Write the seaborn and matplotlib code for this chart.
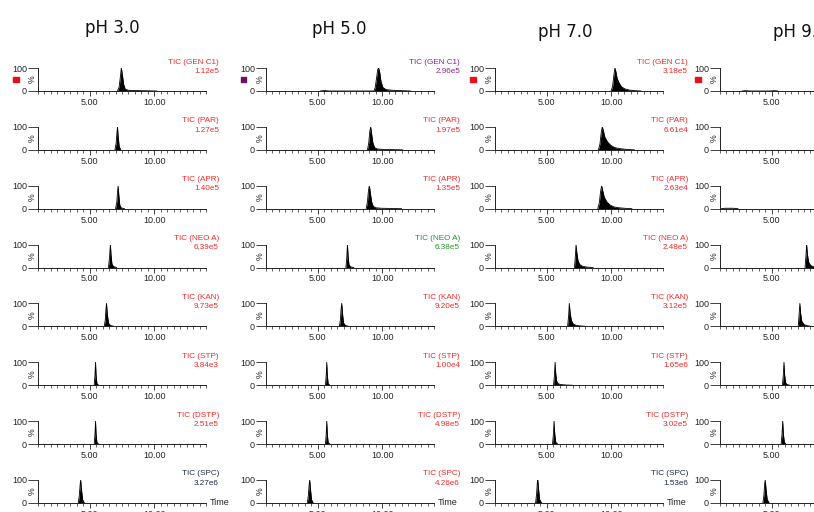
import matplotlib
matplotlib.use("Agg")
import matplotlib.pyplot as plt
import seaborn as sns
import pandas as pd
from matplotlib.ticker import MultipleLocator, FixedLocator
from matplotlib.patches import Rectangle

# ---------------- data ----------------
titles = ["pH 3.0", "pH 5.0", "pH 7.0", "pH 9.0"]
compounds = ["GEN C1", "PAR", "APR", "NEO A", "KAN", "STP", "DSTP", "SPC"]

ph3_intensity = ["1.12e5", "1.27e5", "1.40e5", "6.39e5", "9.73e5", "3.84e3", "2.51e5", "3.27e6"]
ph5_intensity = ["2.96e5", "1.97e5", "1.35e5", "6.38e5", "9.20e5", "1.00e4", "4.98e5", "4.26e6"]
ph7_intensity = ["3.18e5", "6.61e4", "2.63e4", "2.48e5", "3.12e5", "1.65e6", "3.02e5", "1.53e6"]

ph3_label_color = ["red", "red", "red", "red", "red", "red", "red", "navy"]
ph5_label_color = ["purple", "red", "red", "green", "red", "red", "red", "red"]
ph7_label_color = ["red", "red", "red", "red", "red", "red", "red", "navy"]

# retention time (min) / relative intensity (%) points of each trace
ph3_time = [
    [7.15, 7.28, 7.37, 7.45, 7.53, 7.62, 7.75, 8.0, 8.6, 9.4, 10.2],
    [6.95, 7.05, 7.1, 7.15, 7.2, 7.28, 7.4],
    [7.0, 7.1, 7.15, 7.2, 7.25, 7.33, 7.45, 7.7],
    [6.45, 6.53, 6.6, 6.65, 6.72, 6.85, 7.1],
    [6.12, 6.2, 6.25, 6.3, 6.36, 6.45, 6.6, 6.9],
    [5.35, 5.41, 5.45, 5.49, 5.56, 5.7],
    [5.35, 5.41, 5.45, 5.49, 5.56, 5.7],
    [4.12, 4.2, 4.26, 4.3, 4.36, 4.45, 4.58],
]
ph3_pct = [
    [0, 18, 60, 100, 70, 30, 8, 3, 2, 1, 0],
    [0, 30, 70, 100, 60, 15, 0],
    [0, 30, 70, 100, 60, 15, 3, 0],
    [0, 40, 100, 55, 15, 4, 0],
    [0, 25, 70, 100, 55, 15, 4, 0],
    [0, 45, 100, 45, 6, 0],
    [0, 45, 100, 45, 6, 0],
    [0, 35, 80, 100, 60, 15, 0],
]
ph5_time = [
    [5.2, 5.5, 5.9, 9.35, 9.45, 9.55, 9.65, 9.72, 9.8, 9.9, 10.05, 10.3, 10.8, 11.5, 12.2],
    [8.85, 8.95, 9.03, 9.1, 9.17, 9.27, 9.4, 9.6, 10.0, 10.8, 11.6],
    [8.75, 8.85, 8.93, 9.0, 9.07, 9.17, 9.3, 9.5, 9.9, 10.7, 11.5],
    [7.18, 7.25, 7.3, 7.35, 7.42, 7.55, 7.8],
    [6.68, 6.76, 6.81, 6.86, 6.92, 7.0, 7.15, 7.4],
    [5.6, 5.66, 5.7, 5.74, 5.81, 5.95],
    [5.6, 5.66, 5.7, 5.74, 5.81, 5.95],
    [4.2, 4.28, 4.34, 4.38, 4.44, 4.52, 4.65],
]
ph5_pct = [
    [0, 2, 0, 0, 15, 55, 95, 100, 80, 40, 15, 6, 3, 1.5, 0],
    [0, 30, 80, 100, 70, 30, 10, 4, 2, 1, 0],
    [0, 30, 80, 100, 70, 30, 10, 4, 2, 1, 0],
    [0, 40, 100, 50, 12, 3, 0],
    [0, 30, 75, 100, 55, 15, 4, 0],
    [0, 45, 100, 45, 6, 0],
    [0, 45, 100, 45, 6, 0],
    [0, 35, 80, 100, 60, 15, 0],
]
ph7_time = [
    [9.98, 10.1, 10.2, 10.28, 10.35, 10.45, 10.6, 10.8, 11.05, 11.4, 11.8, 12.3],
    [9.0, 9.12, 9.22, 9.3, 9.38, 9.5, 9.7, 9.95, 10.25, 10.7, 11.2, 11.8],
    [8.95, 9.07, 9.17, 9.25, 9.33, 9.45, 9.65, 9.9, 10.2, 10.6, 11.1, 11.6],
    [7.15, 7.22, 7.27, 7.33, 7.42, 7.55, 7.75, 8.1, 8.6],
    [6.62, 6.7, 6.75, 6.81, 6.9, 7.03, 7.25, 7.6, 8.1],
    [5.53, 5.6, 5.65, 5.7, 5.78, 5.9, 6.1, 6.5, 7.0],
    [5.45, 5.52, 5.57, 5.62, 5.7, 5.85],
    [4.14, 4.22, 4.27, 4.31, 4.37, 4.45, 4.6],
]
ph7_pct = [
    [0, 20, 70, 100, 85, 55, 35, 18, 9, 4, 1.5, 0],
    [0, 25, 75, 100, 85, 55, 35, 20, 10, 5, 2, 0],
    [0, 25, 75, 100, 80, 50, 30, 16, 8, 4, 1.5, 0],
    [0, 50, 100, 65, 30, 14, 6, 2, 0],
    [0, 50, 100, 60, 28, 12, 5, 2, 0],
    [0, 45, 100, 50, 15, 6, 3, 1, 0],
    [0, 45, 100, 45, 8, 0],
    [0, 40, 85, 100, 60, 15, 0],
]
ph9_time = [
    [2.7, 3.0, 3.3, 4.9, 5.2, 5.5],
    [1.0, 8.5],
    [1.1, 1.4, 2.0, 2.4],
    [7.58, 7.65, 7.7, 7.76, 7.85, 8.0, 8.2, 8.5],
    [7.05, 7.12, 7.18, 7.24, 7.33, 7.5, 7.75, 8.1],
    [5.83, 5.9, 5.95, 6.0, 6.08, 6.2, 6.4],
    [5.73, 5.8, 5.85, 5.9, 5.98, 6.1],
    [4.32, 4.4, 4.45, 4.5, 4.56, 4.65, 4.8],
]
ph9_pct = [
    [0, 1.5, 0, 0, 1.5, 0],
    [0, 0],
    [0, 2, 2, 0],
    [0, 50, 100, 60, 25, 10, 4, 0],
    [0, 50, 100, 55, 22, 8, 3, 0],
    [0, 45, 100, 45, 10, 3, 0],
    [0, 45, 100, 45, 8, 0],
    [0, 35, 80, 100, 60, 15, 0],
]

x_ticks = [5, 10]
x_tick_labels = ["5.00", "10.00"]
y_ticks = [0, 100]
y_tick_labels = ["0", "100"]

# ---------------- style ----------------
sns.set_style("white")
plt.rcParams["font.family"] = ["DejaVu Sans"]

COLORS = {"red": "#f22a2a", "purple": "#912291", "green": "#23912a", "navy": "#1f2a44"}
SQUARE_COLORS = ["#e8101a", "#6b1263", "#e8101a", "#e8101a"]

W, H = 814, 512
fig = plt.figure(figsize=(W / 100, H / 100), dpi=100)

col_left = [38, 266, 495, 720]
label_right = [219, 460, 688, None]
title_pos = [(112, 28, "center"), (339, 29, "center"), (565, 32, "center"), (773, 32, "left")]
ax_w, ax_h = 168, 23
row0, row_step = 91, 58.85

all_time = [ph3_time, ph5_time, ph7_time, ph9_time]
all_pct = [ph3_pct, ph5_pct, ph7_pct, ph9_pct]
all_int = [ph3_intensity, ph5_intensity, ph7_intensity, None]
all_col = [ph3_label_color, ph5_label_color, ph7_label_color, None]

sans = ["Liberation Sans", "DejaVu Sans"]
tick_font = {"family": sans, "size": 6.5}

for c in range(4):
    x, y, ha = title_pos[c]
    fig.text(x / W, 1 - y / H, titles[c], ha=ha, va="center", fontsize=12,
             family="DejaVu Sans", color="#111111")
    fig.patches.append(Rectangle(((col_left[c] - 25) / W, 1 - 82 / H), 5.5 / W, 5.5 / H,
                                 transform=fig.transFigure, color=SQUARE_COLORS[c]))
    for r in range(8):
        y0 = row0 + row_step * r
        ax = fig.add_axes([col_left[c] / W, (H - y0) / H, ax_w / W, ax_h / H])
        t = all_time[c][r]
        p = all_pct[c][r]
        df = pd.DataFrame({"time": t, "pct": p})
        ax.fill_between(df["time"], df["pct"], 0, color="black", lw=0)
        sns.lineplot(data=df, x="time", y="pct", ax=ax, color="black", lw=0.6,
                     estimator=None, sort=False)
        ax.set_xlim(1.0, 14.0)
        ax.set_ylim(0, 100)
        ax.set_xlabel("")
        ax.set_ylabel("")
        ax.set_facecolor("none")
        for s in ["top", "right"]:
            ax.spines[s].set_visible(False)
        for s in ["left", "bottom"]:
            ax.spines[s].set_linewidth(0.7)
            ax.spines[s].set_color("#222222")
        ax.xaxis.set_major_locator(FixedLocator(x_ticks))
        ax.set_xticklabels(x_tick_labels, fontdict=tick_font)
        ax.xaxis.set_minor_locator(MultipleLocator(0.5))
        ax.yaxis.set_major_locator(FixedLocator(y_ticks))
        ax.set_yticklabels(y_tick_labels, fontdict=tick_font)
        ax.tick_params(axis="x", which="major", direction="out", length=3.5, width=0.6,
                       pad=1.5, bottom=True, color="#222222")
        ax.tick_params(axis="x", which="minor", direction="out", length=2, width=0.5,
                       bottom=True, color="#222222")
        ax.tick_params(axis="y", which="major", direction="out", length=7, width=0.6,
                       pad=1, left=True, color="#222222")
        ax.text(-0.035, 0.5, "%", transform=ax.transAxes, rotation=90, ha="center",
                va="center", fontsize=6.3, family=sans)
        if all_int[c] is not None:
            col = COLORS[all_col[c][r]]
            xr = (label_right[c] - col_left[c]) / ax_w
            ax.text(xr, 1.26, "TIC (" + compounds[r] + ")", transform=ax.transAxes,
                    ha="right", va="center", fontsize=5.9, color=col, family=sans)
            ax.text(xr, 0.86, all_int[c][r], transform=ax.transAxes,
                    ha="right", va="center", fontsize=5.9, color=col, family=sans)
            if r == 7:
                ax.text(1.02, 0.0, "Time", transform=ax.transAxes, ha="left",
                        va="center", fontsize=6.5, family=sans)

fig.savefig("out.png", dpi=100)
